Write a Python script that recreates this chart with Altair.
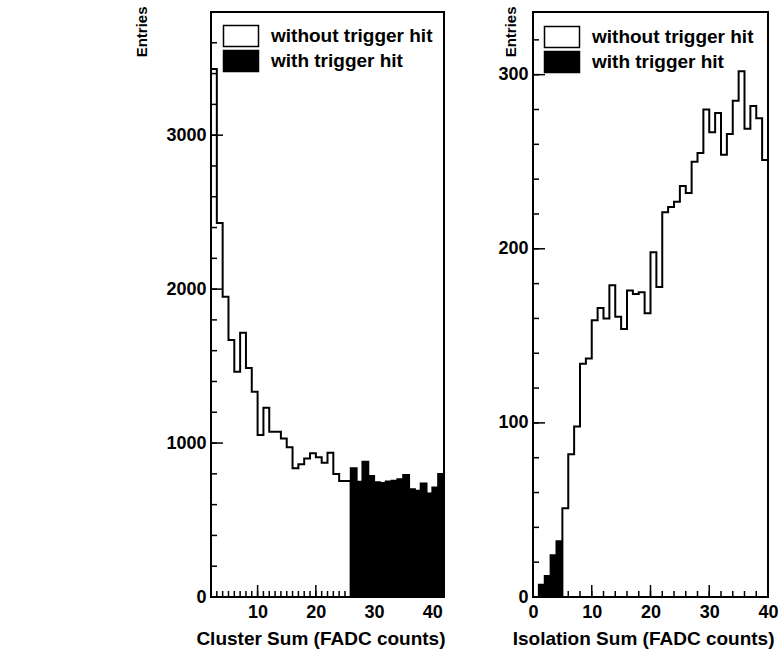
import altair as alt
import pandas as pd

# ---- data -------------------------------------------------------------
# Cluster sum: unit-width bins, first bin starts at 2 FADC counts
cluster_start = 2
cluster_without = [3430, 2430, 1950, 1669, 1463, 1716, 1487, 1333, 1052, 1229,
                   1073, 1073, 1030, 972, 836, 862, 900, 933, 907, 872,
                   937, 799, 753, 753]
cluster_with = [836, 749, 879, 786, 745, 740, 750, 755, 765, 792,
                700, 690, 738, 673, 712, 799]

# Isolation sum: unit-width bins, first bin starts at 0 FADC counts
iso_start = 0
iso_with = [0, 7, 12, 24, 32]
iso_without = [51, 82, 98, 134, 137, 159, 166, 160, 179, 161,
               154, 176, 174, 175, 163, 198, 178, 221, 224, 227,
               236, 232, 250, 255, 280, 267, 278, 254, 266, 285,
               302, 269, 282, 275, 251]

series_names = ["without trigger hit", "with trigger hit"]

cluster_x_labels = [10, 20, 30, 40]
cluster_y_labels = [0, 1000, 2000, 3000]
cluster_x_minor = list(range(2, 43, 1))
cluster_y_minor = list(range(200, 3800, 200))

iso_x_labels = [0, 10, 20, 30, 40]
iso_y_labels = [0, 100, 200, 300]
iso_x_minor = list(range(2, 40, 2))
iso_y_minor = list(range(20, 336, 20))

FONT = "Liberation Sans"
W_LEFT, W_RIGHT, H = 233, 235, 585


def step_rows(start, values, name):
    """Bin low edges with counts, plus a closing edge for step-after drawing."""
    rows = [{"edge": start + i, "count": v, "series": name} for i, v in enumerate(values)]
    rows.append({"edge": start + len(values), "count": values[-1], "series": name})
    return rows


def panel(hist_df, xdom, ydom, xlab, ylab, xminor, yminor, xtitle,
          width, legend_x, legend_y, entries_x, xtitle_dx):
    xs = alt.Scale(domain=xdom, nice=False, zero=False)
    ys = alt.Scale(domain=ydom, nice=False, zero=False)

    x_axis = alt.Axis(
        values=xlab, format="d", ticks=False, domain=False, grid=False,
        labelFont=FONT, labelFontSize=18, labelFontWeight="bold",
        labelColor="black", labelPadding=6, labelFlush=False,
        title=xtitle, titleFont=FONT, titleFontSize=19,
        titleFontWeight="bold", titleColor="black",
        titleAlign="right", titleAnchor="end",
        titleX=width + xtitle_dx, titleY=47, titleBaseline="alphabetic",
    )
    y_axis = alt.Axis(
        values=ylab, format="d", ticks=False, domain=False, grid=False,
        labelFont=FONT, labelFontSize=18, labelFontWeight="bold",
        labelColor="black", labelPadding=5, labelFlush=False,
        title="Entries", titleFont=FONT, titleFontSize=15,
        titleFontWeight="bold", titleColor="black", titleAngle=270,
        titleAlign="right", titleBaseline="alphabetic",
        titleX=entries_x, titleY=-6,
    )

    legend = alt.Legend(
        title=None, orient="none", legendX=legend_x, legendY=legend_y,
        symbolType="M-1.75,-1.05H1.75V1.05H-1.75Z", symbolSize=400,
        symbolStrokeWidth=1.5, symbolStrokeColor="black",
        labelFont=FONT, labelFontSize=19, labelFontWeight="bold",
        labelColor="black", labelOffset=19, labelLimit=400,
        rowPadding=-5.5, padding=0,
    )

    hist = alt.Chart(hist_df).mark_area(
        interpolate="step-after", stroke="black", strokeWidth=2, clip=True
    ).encode(
        x=alt.X("edge:Q", scale=xs, axis=x_axis),
        y=alt.Y("count:Q", stack=None, scale=ys, axis=y_axis),
        color=alt.Color("series:N", scale=alt.Scale(domain=series_names,
                                                      range=["white", "black"]),
                        legend=legend),
    )

    # inward-pointing tick marks on the left and bottom frame edges
    def yticks(vals, length):
        return alt.Chart(pd.DataFrame({"ytick": vals})).mark_rule(
            color="black", strokeWidth=1.5).encode(
            y=alt.Y("ytick:Q", scale=ys, axis=y_axis),
            x=alt.value(0), x2=alt.value(length))

    def xticks(vals, length):
        return alt.Chart(pd.DataFrame({"xtick": vals})).mark_rule(
            color="black", strokeWidth=1.5).encode(
            x=alt.X("xtick:Q", scale=xs, axis=x_axis),
            y=alt.value(H), y2=alt.value(H - length))

    return alt.layer(
        hist,
        yticks(ylab, 12), yticks(yminor, 6),
        xticks(xlab, 12), xticks(xminor, 6),
    ).properties(width=width, height=H)


cluster_df = pd.DataFrame(step_rows(cluster_start, cluster_without, series_names[0])
                          + step_rows(cluster_start + len(cluster_without),
                                      cluster_with, series_names[1]))
iso_df = pd.DataFrame(step_rows(iso_start, iso_with, series_names[1])
                      + step_rows(iso_start + len(iso_with), iso_without,
                                  series_names[0]))

left = panel(cluster_df, [2, 42], [0, 3800], cluster_x_labels, cluster_y_labels,
             cluster_x_minor, cluster_y_minor, "Cluster Sum (FADC counts)",
             W_LEFT, 19, 13, -65, 1)
right = panel(iso_df, [0, 40], [0, 336], iso_x_labels, iso_y_labels,
              iso_x_minor, iso_y_minor, "Isolation Sum (FADC counts)",
              W_RIGHT, 18, 14, -18, 6)

chart = alt.hconcat(left, right, spacing=89, bounds="flush").resolve_scale(
    color="independent", x="independent", y="independent"
).properties(
    padding={"left": 133, "top": 5, "right": 0, "bottom": 0}
).configure_view(
    stroke="black", strokeWidth=2
)

chart.save("out.html", embed_options={"renderer": "svg", "actions": False})
